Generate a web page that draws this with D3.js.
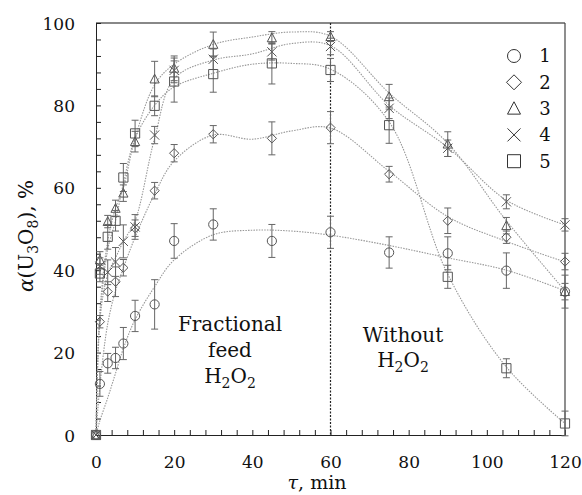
<!DOCTYPE html>
<html>
<head>
<meta charset="utf-8">
<script src="https://cdn.jsdelivr.net/npm/d3@7"></script>
<style>
  body { margin: 0; background: #fff; }
  svg { display: block; font-family: "DejaVu Serif", serif; }
</style>
</head>
<body>
<svg id="chart" width="582" height="495"></svg>
<script>
// sampling times, min
const times = [0, 1, 3, 5, 7, 10, 15, 20, 30, 45, 60, 75, 90, 105, 120];

// measured alpha(U3O8), % and error half-widths
const s1 = [0, 12.4, 17.4, 18.7, 22.2, 28.9, 31.7, 47.1, 51.1, 47.1, 49.2, 44.3, 44.1, 39.9, 34.8];
const e1 = [0, 3, 2.4, 2.6, 3.9, 3.8, 6, 4.2, 3.8, 4, 3.9, 3.8, 4, 4.3, 4];
const s2 = [0, 27.5, 34.8, 37.2, 40.6, 50.2, 59.3, 68.4, 73, 72, 74.6, 63.3, 52, 48, 42.1];
const e2 = [0, 1.5, 2.4, 3.6, 2, 2, 2, 2.1, 2.1, 4, 3.9, 1.9, 3.1, 1.5, 2];
const s3 = [0, 42.5, 51.8, 55, 58.7, 71.2, 86.4, 89, 94.8, 96.4, 96.7, 82.1, 70.6, 50.8, 34.8];
const e3 = [0, 2, 1.5, 2, 2, 2.5, 4.3, 3, 3, 1.5, 1.2, 3, 3, 2, 2];
const s4 = [0, 41, 39.5, 42, 47, 50.5, 72.8, 88.5, 91.2, 93, 94.3, 79.3, 69.6, 56.6, 51];
const e4 = [0, 2, 3, 3.5, 4, 3, 2.1, 3, 2.5, 2, 2, 2.5, 2, 1.7, 1.5];
const s5 = [0, 39.2, 48.1, 52, 62.5, 73.2, 79.9, 85.8, 87.6, 90.2, 88.6, 75.2, 38.4, 16.2, 2.8];
const e5 = [0, 2, 3, 2.5, 3.4, 3.2, 2.4, 5, 4.4, 5, 2.8, 4.4, 2.8, 2.3, 3];

// smoothed trend curves
const fitTimes = [0, 1, 3, 5, 7, 10, 15, 20, 30, 40, 50, 60, 75, 90, 105, 120];
const f1 = [0, 3.5, 9, 15, 21, 28, 36, 42.5, 48.6, 49.7, 49.5, 48.5, 46, 43, 40, 35];
const f2 = [0, 12, 27, 35, 40.5, 48, 58.5, 66.5, 72.8, 71.8, 73.8, 74.5, 64, 53, 47, 42];
const f3 = [0, 30, 47, 55, 60, 72, 85, 90, 94.8, 96.6, 97.8, 96.8, 83, 70.8, 52, 35];
const f4 = [0, 28, 39, 43, 47, 52, 72, 86.5, 91, 92.5, 95, 94.5, 80, 69.8, 57, 51];
const f5 = [0, 28, 45, 52, 61, 72, 80, 84.5, 87.8, 90, 90.2, 88.8, 76, 39, 16.5, 2.8];

const seriesNames = ['1', '2', '3', '4', '5'];
const shapes = ['circle', 'diamond', 'triangle', 'times', 'square'];
const xTicks = [0, 20, 40, 60, 80, 100, 120];
const yTicks = [0, 20, 40, 60, 80, 100];
const switchTime = 60;

const series = [
  { name: seriesNames[0], shape: shapes[0], v: s1, e: e1, fit: f1 },
  { name: seriesNames[1], shape: shapes[1], v: s2, e: e2, fit: f2 },
  { name: seriesNames[2], shape: shapes[2], v: s3, e: e3, fit: f3 },
  { name: seriesNames[3], shape: shapes[3], v: s4, e: e4, fit: f4 },
  { name: seriesNames[4], shape: shapes[4], v: s5, e: e5, fit: f5 }
];

const width = 582, height = 495;
const margin = { top: 23, right: 17, bottom: 60, left: 96 };

const svg = d3.select('#chart');

const x = d3.scaleLinear().domain([0, 120]).range([margin.left, width - margin.right]);
const y = d3.scaleLinear().domain([0, 100]).range([height - margin.bottom, margin.top]);

function shapePath(kind, h) {
  if (kind === 'circle') {
    return d3.symbol(d3.symbolCircle, Math.PI * h * h)();
  }
  if (kind === 'diamond') {
    return `M0,${-h}L${h},0L0,${h}L${-h},0Z`;
  }
  if (kind === 'triangle') {
    return `M0,${-h * 1.05}L${h},${h * 0.85}L${-h},${h * 0.85}Z`;
  }
  if (kind === 'times') {
    return `M${-h},${-h}L${h},${h}M${-h},${h}L${h},${-h}`;
  }
  return `M${-h},${-h}H${h}V${h}H${-h}Z`;
}

// frame top / right
svg.append('line')
  .attr('x1', x(0)).attr('x2', x(120))
  .attr('y1', y(100)).attr('y2', y(100))
  .attr('stroke', '#888').attr('stroke-width', 2);
svg.append('line')
  .attr('x1', x(120)).attr('x2', x(120))
  .attr('y1', y(100)).attr('y2', y(0))
  .attr('stroke', '#444').attr('stroke-width', 1.2);

// x axis: minor inward ticks, then labels
const xMinor = svg.append('g')
  .attr('transform', 'translate(0,' + y(0) + ')')
  .call(d3.axisBottom(x).tickValues(d3.range(0, 121, 4)).tickSize(-5).tickFormat(''));
xMinor.select('.domain').attr('stroke', '#222');
xMinor.selectAll('.tick line').attr('stroke', '#222');

const xLab = svg.append('g')
  .attr('transform', 'translate(0,' + y(0) + ')')
  .call(d3.axisBottom(x).tickValues(xTicks).tickSize(0).tickFormat(d3.format('d')));
xLab.select('.domain').remove();
xLab.selectAll('text')
  .attr('y', 33).attr('dy', 0)
  .attr('font-family', '"DejaVu Serif", serif')
  .attr('font-size', 17).attr('fill', '#111');

// y axis
const yMinor = svg.append('g')
  .attr('transform', 'translate(' + x(0) + ',0)')
  .call(d3.axisLeft(y).tickValues(d3.range(0, 101, 4)).tickSize(-5).tickFormat(''));
yMinor.select('.domain').attr('stroke', '#222');
yMinor.selectAll('.tick line').attr('stroke', '#222');

const yLab = svg.append('g')
  .attr('transform', 'translate(' + x(0) + ',0)')
  .call(d3.axisLeft(y).tickValues(yTicks).tickSize(0).tickPadding(21));
yLab.select('.domain').remove();
yLab.selectAll('text')
  .attr('dy', '0.36em')
  .attr('font-family', '"DejaVu Serif", serif')
  .attr('font-size', 17).attr('fill', '#111');

// axis titles
svg.append('text')
  .attr('x', 317).attr('y', 489)
  .attr('text-anchor', 'middle')
  .attr('font-size', 19).attr('fill', '#111')
  .html('<tspan font-style="italic">τ</tspan>, min');

const yTitle = svg.append('text')
  .attr('transform', 'translate(33,236) rotate(-90)')
  .attr('text-anchor', 'middle')
  .attr('font-size', 20).attr('fill', '#111');
yTitle.append('tspan').attr('font-style', 'italic').text('α');
yTitle.append('tspan').text('(U');
yTitle.append('tspan').attr('font-size', 14).attr('dy', 5).text('3');
yTitle.append('tspan').attr('dy', -5).text('O');
yTitle.append('tspan').attr('font-size', 14).attr('dy', 5).text('8');
yTitle.append('tspan').attr('dy', -5).text('), %');

// divider at the end of H2O2 feeding
svg.append('line')
  .attr('x1', x(switchTime)).attr('x2', x(switchTime))
  .attr('y1', y(100)).attr('y2', y(0))
  .attr('stroke', '#222').attr('stroke-width', 1.2)
  .attr('stroke-dasharray', '2,1.5');

// trend curves
const line = d3.line()
  .x((d) => x(d[0]))
  .y((d) => y(d[1]))
  .curve(d3.curveCatmullRom.alpha(0.5));

svg.append('g')
  .selectAll('path')
  .data(series)
  .enter()
  .append('path')
  .attr('d', (s) => line(fitTimes.map((t, i) => [t, s.fit[i]])))
  .attr('fill', 'none')
  .attr('stroke', '#999')
  .attr('stroke-width', 1.1)
  .attr('stroke-dasharray', '1.5,1.2');

// error bars and markers
series.forEach((s) => {
  const pts = times.map((t, i) => ({ t: t, v: s.v[i], e: s.e[i] }));
  const g = svg.append('g');
  const eb = g.selectAll('.err')
    .data(pts.filter((d) => d.e > 0))
    .enter()
    .append('g')
    .attr('stroke', '#666')
    .attr('stroke-width', 1);
  eb.append('line')
    .attr('x1', (d) => x(d.t)).attr('x2', (d) => x(d.t))
    .attr('y1', (d) => y(d.v - d.e)).attr('y2', (d) => y(d.v + d.e));
  eb.append('line')
    .attr('x1', (d) => x(d.t) - 3.5).attr('x2', (d) => x(d.t) + 3.5)
    .attr('y1', (d) => y(d.v - d.e)).attr('y2', (d) => y(d.v - d.e));
  eb.append('line')
    .attr('x1', (d) => x(d.t) - 3.5).attr('x2', (d) => x(d.t) + 3.5)
    .attr('y1', (d) => y(d.v + d.e)).attr('y2', (d) => y(d.v + d.e));

  g.selectAll('.mark')
    .data(pts)
    .enter()
    .append('path')
    .attr('transform', (d) => 'translate(' + x(d.t) + ',' + y(d.v) + ')')
    .attr('d', shapePath(s.shape, 4.6))
    .attr('fill', 'none')
    .attr('stroke', '#555')
    .attr('stroke-width', 1);
});

// annotations
const noteFeed = svg.append('text')
  .attr('text-anchor', 'middle')
  .attr('font-size', 20).attr('fill', '#111');
noteFeed.append('tspan').attr('x', 230).attr('y', 331).text('Fractional');
noteFeed.append('tspan').attr('x', 230).attr('y', 357).text('feed');
const h1 = svg.append('text')
  .attr('x', 230).attr('y', 383)
  .attr('text-anchor', 'middle')
  .attr('font-size', 20).attr('fill', '#111');
h1.append('tspan').text('H');
h1.append('tspan').attr('font-size', 14).attr('dy', 5).text('2');
h1.append('tspan').attr('dy', -5).text('O');
h1.append('tspan').attr('font-size', 14).attr('dy', 5).text('2');

svg.append('text')
  .attr('x', 403).attr('y', 342)
  .attr('text-anchor', 'middle')
  .attr('font-size', 20).attr('fill', '#111')
  .text('Without');
const h2 = svg.append('text')
  .attr('x', 403).attr('y', 367)
  .attr('text-anchor', 'middle')
  .attr('font-size', 20).attr('fill', '#111');
h2.append('tspan').text('H');
h2.append('tspan').attr('font-size', 14).attr('dy', 5).text('2');
h2.append('tspan').attr('dy', -5).text('O');
h2.append('tspan').attr('font-size', 14).attr('dy', 5).text('2');

// legend
const legend = svg.append('g')
  .selectAll('g')
  .data(series)
  .enter()
  .append('g')
  .attr('transform', (d, i) => 'translate(514,' + (56 + i * 26.3) + ')');
legend.append('path')
  .attr('d', (d) => shapePath(d.shape, d.shape === 'diamond' ? 7.5 : 6.5))
  .attr('fill', 'none')
  .attr('stroke', '#333')
  .attr('stroke-width', 1);
legend.append('text')
  .attr('x', 31)
  .attr('dy', '0.36em')
  .attr('text-anchor', 'middle')
  .attr('font-size', 18).attr('fill', '#111')
  .text((d) => d.name);
</script>
</body>
</html>
